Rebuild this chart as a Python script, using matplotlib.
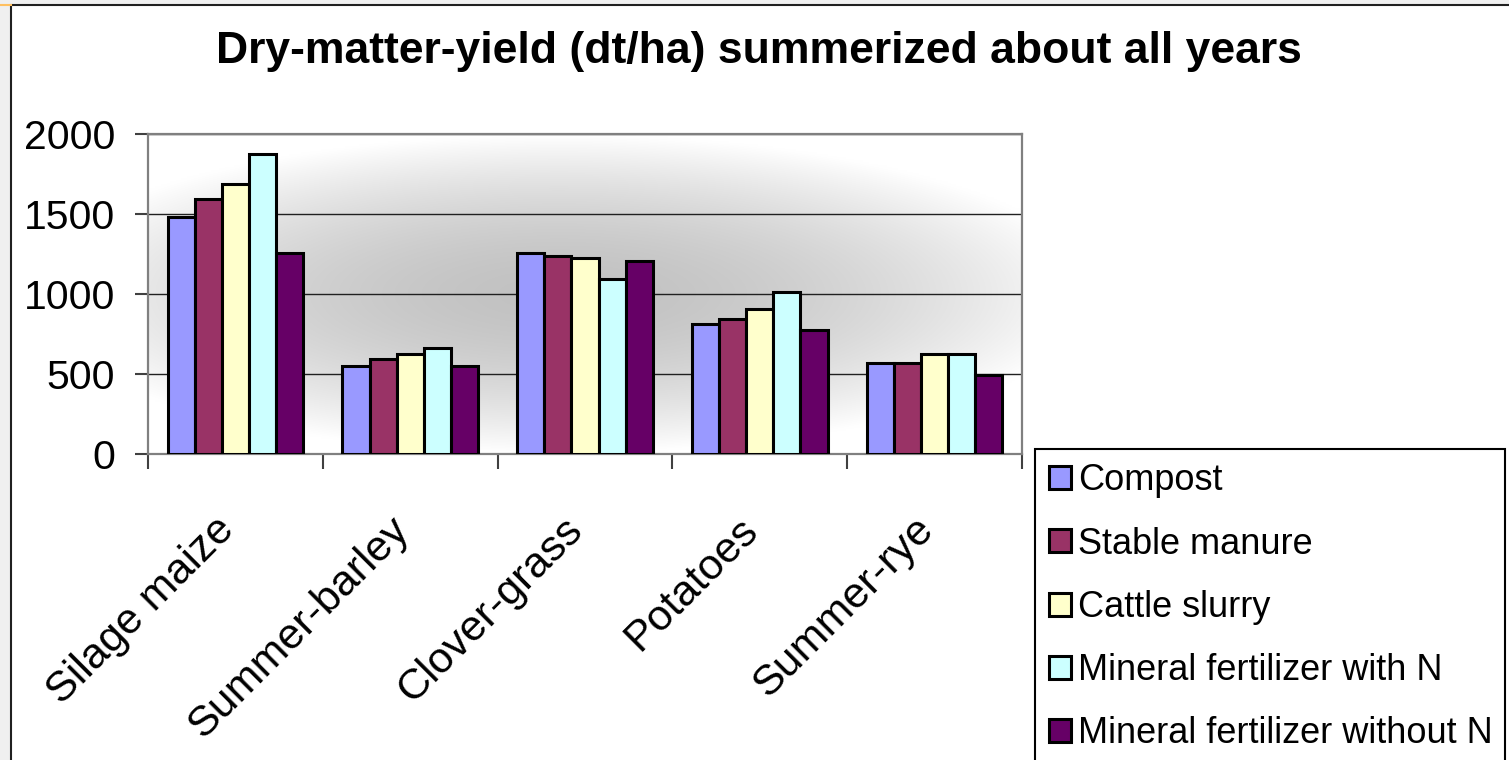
import numpy as np
import matplotlib
matplotlib.use("Agg")
import matplotlib.pyplot as plt
from matplotlib.lines import Line2D
from matplotlib.patches import Rectangle

plt.rcParams["font.family"] = ["Liberation Sans", "DejaVu Sans"]

crops = ["Silage maize", "Summer-barley", "Clover-grass", "Potatoes", "Summer-rye"]
treatments = ["Compost", "Stable manure", "Cattle slurry",
              "Mineral fertilizer with N", "Mineral fertilizer without N"]
compost = [1480, 552, 1258, 815, 569]
stable_manure = [1592, 592, 1240, 846, 569]
cattle_slurry = [1687, 627, 1223, 904, 627]
mineral_n = [1873, 664, 1092, 1015, 627]
mineral_no_n = [1258, 552, 1204, 775, 496]
series = [compost, stable_manure, cattle_slurry, mineral_n, mineral_no_n]
colors = ["#9999ff", "#993366", "#ffffcc", "#ccffff", "#660066"]
yticks = [0, 500, 1000, 1500, 2000]

fig = plt.figure(figsize=(15.09, 7.60), dpi=100, facecolor="#f0f0f0")
# white chart panel with dark border
fig.add_artist(Rectangle((11 / 1509, -0.01), 1.0, 1 - 5 / 760 + 0.01,
                         transform=fig.transFigure, facecolor="white",
                         edgecolor="#202020", lw=1.5, zorder=0))
fig.add_artist(Line2D([0, 11 / 1509], [1 - 5 / 760] * 2, transform=fig.transFigure,
                      color="#ffc060", lw=1.5))

ax = fig.add_axes([148 / 1509, 1 - 454 / 760, (1022 - 148) / 1509, (454 - 134) / 760])
ax.set_facecolor("white")

# grey "from centre" gradient of the plot area
gx, gy = np.meshgrid(np.linspace(0, 1, 300), np.linspace(0, 1, 200))
r = np.sqrt(((gx - 0.47) / 0.62) ** 2 + ((gy - 0.5) / 0.5) ** 2)
shade = 0.76 + 0.24 * np.clip(r, 0, 1) ** 1.8
ax.imshow(np.dstack([shade] * 3), extent=[0, 1, 0, 1], transform=ax.transAxes,
          aspect="auto", interpolation="bilinear", zorder=0)

x = np.arange(len(crops)) + 0.5
w = 0.155
for i, (vals, c, lab) in enumerate(zip(series, colors, treatments)):
    ax.bar(x + (i - 2) * w, vals, w, color=c, edgecolor="black", lw=2.2,
           label=lab, zorder=3)

ax.set_xlim(0, 5)
ax.set_ylim(0, 2000)
ax.set_yticks(yticks)
ax.set_yticklabels([str(v) for v in yticks], fontsize=29.5)
ax.yaxis.grid(True, color="#202020", lw=1.0)
ax.set_axisbelow(True)

# boundary ticks between categories; labels sit on invisible minor ticks,
# nudged a little left like the Excel original
ax.set_xticks(np.arange(0, 6))
ax.set_xticklabels([])
ax.set_xticks(x - 0.125, minor=True)
ax.set_xticklabels(crops, minor=True, rotation=45, ha="right",
                   rotation_mode="anchor", fontsize=31)
ax.tick_params(axis="x", which="minor", length=0, pad=40)
ax.tick_params(axis="x", which="major", direction="out", length=11,
               width=1.5, color="#404040")
ax.tick_params(axis="y", direction="out", length=9.5, width=1.5,
               color="#404040", pad=14)
for s in ax.spines.values():
    s.set_color("#808080")
    s.set_linewidth(1.6)

fig.text(0.503, 1 - 52 / 760, "Dry-matter-yield (dt/ha) summerized about all years",
         ha="center", va="center", fontsize=32, fontweight="bold")

leg = fig.legend(loc="upper left",
                 bbox_to_anchor=(1035 / 1509, 0, (1505 - 1035) / 1509, 1 - 449 / 760),
                 mode="expand", fontsize=26, frameon=True, fancybox=False,
                 shadow=False, handlelength=0.6, handleheight=0.6,
                 handletextpad=0.2, labelspacing=0.78, borderpad=0.4,
                 borderaxespad=0)
leg.get_frame().set_edgecolor("black")
leg.get_frame().set_linewidth(1.5)
leg.get_frame().set_alpha(1)

fig.savefig("out.png", dpi=100, facecolor=fig.get_facecolor())
